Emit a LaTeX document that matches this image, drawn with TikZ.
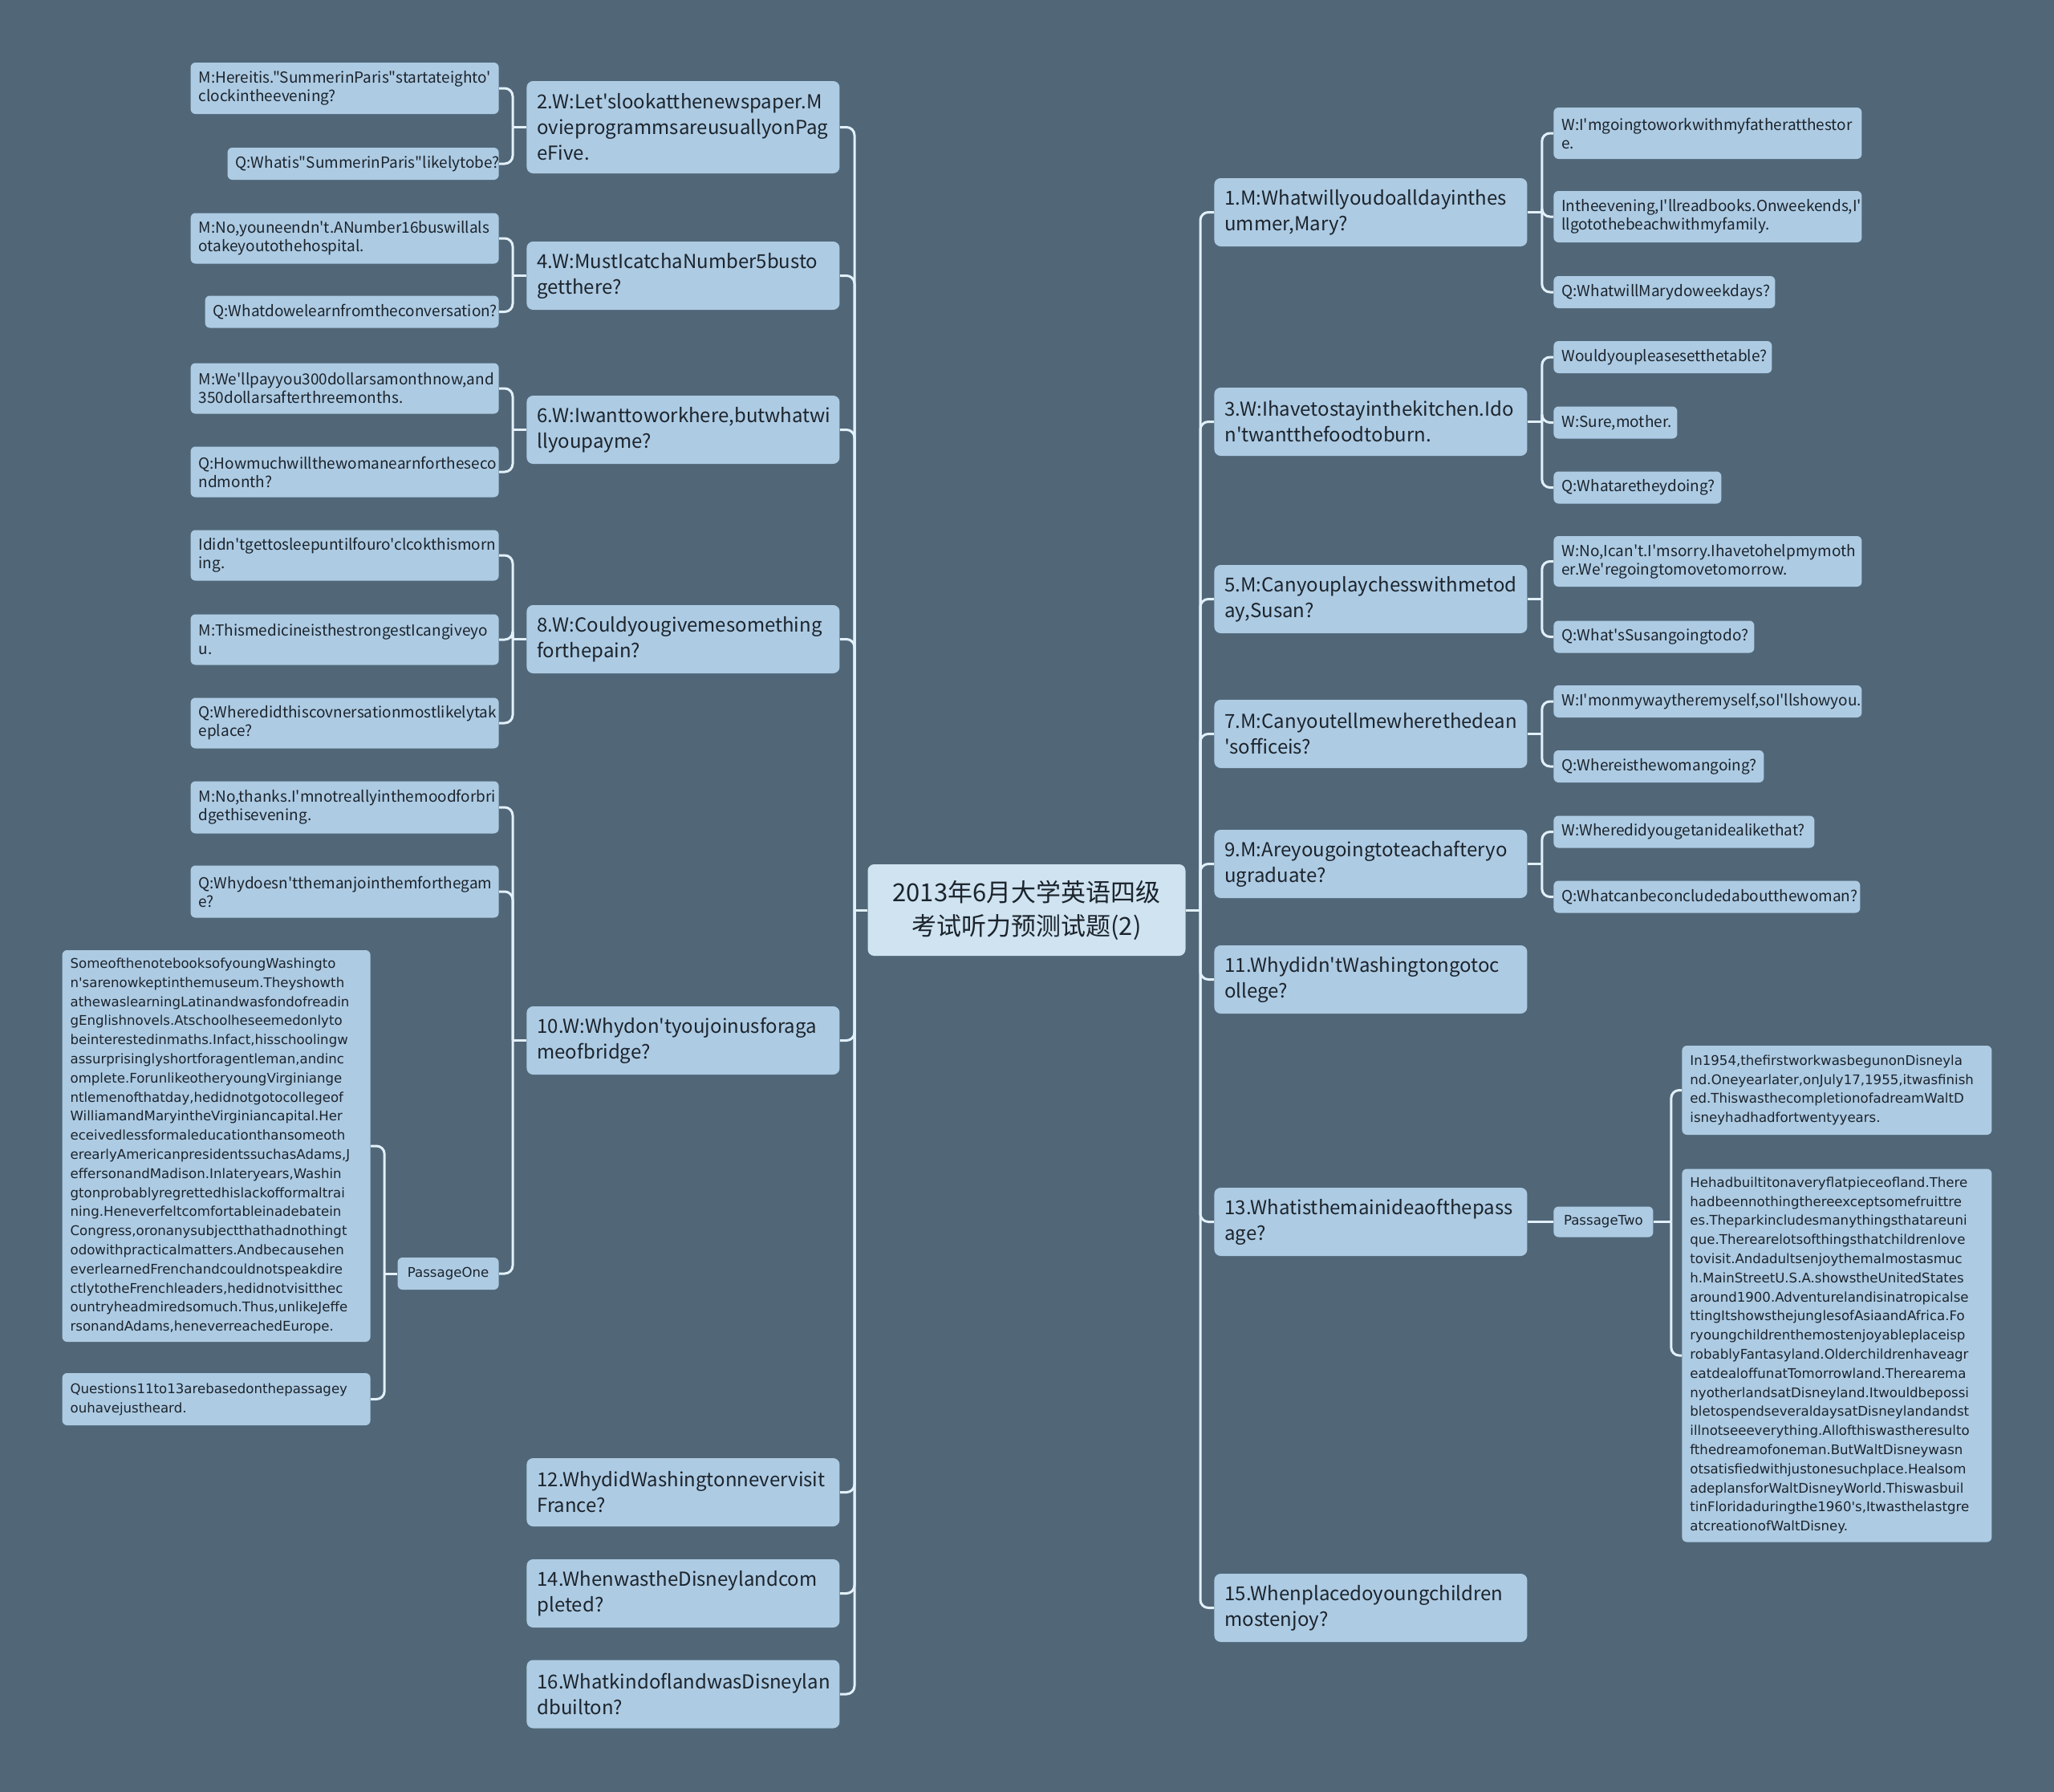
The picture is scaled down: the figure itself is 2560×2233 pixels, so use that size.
\documentclass[tikz,border=0pt]{standalone}
\usepackage{fontspec}
\setmainfont{Noto Sans CJK SC}[Ligatures=TeXOff]
\newfontfamily\passagefont{DejaVu Sans}[Ligatures=TeXOff]
\usepackage{xcolor}
\usetikzlibrary{calc}

\definecolor{bgc}{RGB}{81,103,120}
\definecolor{boxc}{RGB}{173,203,227}
\definecolor{rootc}{RGB}{207,227,241}
\definecolor{linkc}{RGB}{226,240,250}
\definecolor{textc}{RGB}{28,36,44}

\hyphenpenalty=10000
\exhyphenpenalty=10000

\begin{document}
\begin{tikzpicture}[
    x=0.5pt, y=-0.5pt,
    every node/.style={text=textc, align=left},
    rootbox/.style={fill=rootc, rounded corners=4pt, align=center, minimum width=198pt, minimum height=57pt, font=\fontsize{15.5}{21}\selectfont},
    topicbox/.style={fill=boxc, rounded corners=4pt, anchor=west, inner xsep=6.5pt, inner ysep=2pt, text width=182pt, minimum height=42.5pt, font=\fontsize{12}{16}\selectfont},
    leafbox/.style={fill=boxc, rounded corners=3pt, inner xsep=5pt, inner ysep=2pt, text width=182pt, minimum height=31.5pt, font=\fontsize{9.5}{11.5}\selectfont},
    passagebox/.style={leafbox, font=\passagefont\fontsize{8.3}{11.9}\selectfont},
    linkline/.style={draw=linkc, line width=1.5pt, rounded corners=5pt}
]

\fill[bgc] (0,0) rectangle (2560,2233);
\useasboundingbox (0,0) rectangle (2560,2233);

% Root
\node[rootbox] (root) at (1279.5,1134) {2013年6月大学英语四级\\考试听力预测试题(2)};

% Left topics
\node[topicbox, minimum height=57.5pt] (n2) at (656,158.5) {2.W:Let'slookatthenewspaper.M\\ovieprogrammsareusuallyonPag\\eFive.};
\node[topicbox] (n4) at (656,343.5) {4.W:MustIcatchaNumber5busto\\getthere?};
\node[topicbox] (n6) at (656,535.5) {6.W:Iwanttoworkhere,butwhatwi\\llyoupayme?};
\node[topicbox] (n8) at (656,796.5) {8.W:Couldyougivemesomething\\forthepain?};
\node[topicbox] (n10) at (656,1296.5) {10.W:Whydon'tyoujoinusforaga\\meofbridge?};
\node[topicbox] (n12) at (656,1859.5) {12.WhydidWashingtonnevervisit\\France?};
\node[topicbox] (n14) at (656,1985.5) {14.WhenwastheDisneylandcom\\pleted?};
\node[topicbox] (n16) at (656,2111) {16.WhatkindoflandwasDisneylan\\dbuilton?};

% Right topics
\node[topicbox] (r1) at (1513,264.5) {1.M:Whatwillyoudoalldayinthes\\ummer,Mary?};
\node[topicbox] (r3) at (1513,525.5) {3.W:Ihavetostayinthekitchen.Ido\\n'twantthefoodtoburn.};
\node[topicbox] (r5) at (1513,746.5) {5.M:Canyouplaychesswithmetod\\ay,Susan?};
\node[topicbox] (r7) at (1513,914.5) {7.M:Canyoutellmewherethedean\\'sofficeis?};
\node[topicbox] (r9) at (1513,1076.5) {9.M:Areyougoingtoteachafteryo\\ugraduate?};
\node[topicbox] (r11) at (1513,1220.5) {11.Whydidn'tWashingtongotoc\\ollege?};
\node[topicbox] (r13) at (1513,1522.5) {13.Whatisthemainideaofthepass\\age?};
\node[topicbox] (r15) at (1513,2003.5) {15.Whenplacedoyoungchildren\\mostenjoy?};

% Left leaves
\node[leafbox, anchor=east, minimum height=32pt] (n2a) at (622,110) {M:Hereitis."SummerinParis"startateighto'\\clockintheevening?};
\node[leafbox, anchor=east, text width=159pt, minimum height=20pt] (n2b) at (622,204) {Q:Whatis"SummerinParis"likelytobe?};
\node[leafbox, anchor=east] (n4a) at (622,297) {M:No,youneendn't.ANumber16buswillals\\otakeyoutothehospital.};
\node[leafbox, anchor=east, text width=173pt, minimum height=20pt] (n4b) at (622,388.5) {Q:Whatdowelearnfromtheconversation?};
\node[leafbox, anchor=east] (n6a) at (622,484) {M:We'llpayyou300dollarsamonthnow,and\\350dollarsafterthreemonths.};
\node[leafbox, anchor=east] (n6b) at (622,588) {Q:Howmuchwillthewomanearnfortheseco\\ndmonth?};
\node[leafbox, anchor=east] (n8a) at (622,692) {Ididn'tgettosleepuntilfouro'clcokthismorn\\ing.};
\node[leafbox, anchor=east] (n8b) at (622,797) {M:ThismedicineisthestrongestIcangiveyo\\u.};
\node[leafbox, anchor=east] (n8c) at (622,901) {Q:Wheredidthiscovnersationmostlikelytak\\eplace?};
\node[leafbox, anchor=east, minimum height=32.5pt] (n10a) at (622,1006) {M:No,thanks.I'mnotreallyinthemoodforbri\\dgethisevening.};
\node[leafbox, anchor=east, minimum height=32.5pt] (n10b) at (622,1111) {Q:Whydoesn'tthemanjointhemforthegam\\e?};
\node[passagebox, anchor=east, align=center, text width=53pt, minimum height=20pt] (pone) at (622,1587) {PassageOne};
\node[passagebox, anchor=east, minimum height=244pt] (pone1) at (462,1428) {SomeofthenotebooksofyoungWashingto\\n'sarenowkeptinthemuseum.Theyshowth\\athewaslearningLatinandwasfondofreadin\\gEnglishnovels.Atschoolheseemedonlyto\\beinterestedinmaths.Infact,hisschoolingw\\assurprisinglyshortforagentleman,andinc\\omplete.ForunlikeotheryoungVirginiange\\ntlemenofthatday,hedidnotgotocollegeof\\WilliamandMaryintheVirginiancapital.Her\\eceivedlessformaleducationthansomeoth\\erearlyAmericanpresidentssuchasAdams,J\\effersonandMadison.Inlateryears,Washin\\gtonprobablyregrettedhislackofformaltrai\\ning.Heneverfeltcomfortableinadebatein\\Congress,oronanysubjectthathadnothingt\\odowithpracticalmatters.Andbecausehen\\everlearnedFrenchandcouldnotspeakdire\\ctlytotheFrenchleaders,hedidnotvisitthec\\ountryheadmiredsomuch.Thus,unlikeJeffe\\rsonandAdams,heneverreachedEurope.};
\node[passagebox, anchor=east, minimum height=32.5pt] (pone2) at (462,1743.5) {Questions11to13arebasedonthepassagey\\ouhavejustheard.};

% Right leaves
\node[leafbox, anchor=west, minimum height=32pt] (r1a) at (1936,166) {W:I'mgoingtoworkwithmyfatheratthestor\\e.};
\node[leafbox, anchor=west, minimum height=32pt] (r1b) at (1936,270) {Intheevening,I'llreadbooks.Onweekends,I'\\llgotothebeachwithmyfamily.};
\node[leafbox, anchor=west, text width=128pt, minimum height=20pt] (r1c) at (1936,364) {Q:WhatwillMarydoweekdays?};
\node[leafbox, anchor=west, text width=126pt, minimum height=20pt] (r3a) at (1936,445) {Wouldyoupleasesetthetable?};
\node[leafbox, anchor=west, text width=67pt, minimum height=20pt] (r3b) at (1936,526.5) {W:Sure,mother.};
\node[leafbox, anchor=west, text width=94.5pt, minimum height=20pt] (r3c) at (1936,607.5) {Q:Whataretheydoing?};
\node[leafbox, anchor=west] (r5a) at (1936,699.5) {W:No,Ican't.I'msorry.Ihavetohelpmymoth\\er.We'regoingtomovetomorrow.};
\node[leafbox, anchor=west, text width=115pt, minimum height=20pt] (r5b) at (1936,793.5) {Q:What'sSusangoingtodo?};
\node[leafbox, anchor=west, minimum height=20pt] (r7a) at (1936,874) {W:I'monmywaytheremyself,soI'llshowyou.};
\node[leafbox, anchor=west, text width=121pt, minimum height=20pt] (r7b) at (1936,955) {Q:Whereisthewomangoing?};
\node[leafbox, anchor=west, text width=152.5pt, minimum height=20pt] (r9a) at (1936,1036.5) {W:Wheredidyougetanidealikethat?};
\node[leafbox, anchor=west, text width=181pt, minimum height=20pt] (r9b) at (1936,1117.5) {Q:Whatcanbeconcludedaboutthewoman?};
\node[passagebox, anchor=west, align=center, text width=52pt, minimum height=19pt] (ptwo) at (1936,1522.5) {PassageTwo};
\node[passagebox, anchor=west, text width=183pt, minimum height=55.5pt] (ptwo1) at (2096,1358.5) {In1954,thefirstworkwasbegunonDisneyla\\nd.Oneyearlater,onJuly17,1955,itwasfinish\\ed.ThiswasthecompletionofadreamWaltD\\isneyhadhadfortwentyyears.};
\node[passagebox, anchor=west, text width=183pt, minimum height=232.5pt] (ptwo2) at (2096,1689) {Hehadbuiltitonaveryflatpieceofland.There\\hadbeennothingthereexceptsomefruittre\\es.Theparkincludesmanythingsthatareuni\\que.Therearelotsofthingsthatchildrenlove\\tovisit.Andadultsenjoythemalmostasmuc\\h.MainStreetU.S.A.showstheUnitedStates\\around1900.Adventurelandisinatropicalse\\ttingItshowsthejunglesofAsiaandAfrica.Fo\\ryoungchildrenthemostenjoyableplaceisp\\robablyFantasyland.Olderchildrenhaveagr\\eatdealoffunatTomorrowland.Therearema\\nyotherlandsatDisneyland.Itwouldbepossi\\bletospendseveraldaysatDisneylandandst\\illnotseeeverything.Allofthiswastheresulto\\fthedreamofoneman.ButWaltDisneywasn\\otsatisfiedwithjustonesuchplace.Healsom\\adeplansforWaltDisneyWorld.Thiswasbuil\\tinFloridaduringthe1960's,Itwasthelastgre\\atcreationofWaltDisney.};

% Connectors
\coordinate (lspine) at (1065,1134);
\coordinate (rspine) at (1496,1134);
\draw[linkline] (root.west) -- (lspine);
\draw[linkline] (root.east) -- (rspine);
\foreach \t in {n2,n4,n6,n8,n10,n12,n14,n16}
  \draw[linkline] (lspine) |- (\t.east);
\foreach \t in {r1,r3,r5,r7,r9,r11,r13,r15}
  \draw[linkline] (rspine) |- (\t.west);

\foreach \p/\c in {n2/n2a,n2/n2b,n4/n4a,n4/n4b,n6/n6a,n6/n6b,n8/n8a,n8/n8b,n8/n8c,n10/n10a,n10/n10b,n10/pone}{
  \draw[linkline] (\p.west) -- ++(-17,0);
  \draw[linkline] ($(\p.west)+(-17,0)$) |- (\c.east);
}
\foreach \c in {pone1,pone2}{
  \draw[linkline] (pone.west) -- ++(-16,0);
  \draw[linkline] ($(pone.west)+(-16,0)$) |- (\c.east);
}
\foreach \p/\c in {r1/r1a,r1/r1b,r1/r1c,r3/r3a,r3/r3b,r3/r3c,r5/r5a,r5/r5b,r7/r7a,r7/r7b,r9/r9a,r9/r9b}{
  \draw[linkline] (\p.east) -- ++(18,0);
  \draw[linkline] ($(\p.east)+(18,0)$) |- (\c.west);
}
\draw[linkline] (r13.east) -- (ptwo.west);
\foreach \c in {ptwo1,ptwo2}{
  \draw[linkline] (ptwo.east) -- ++(22,0);
  \draw[linkline] ($(ptwo.east)+(22,0)$) |- (\c.west);
}

\end{tikzpicture}
\end{document}
